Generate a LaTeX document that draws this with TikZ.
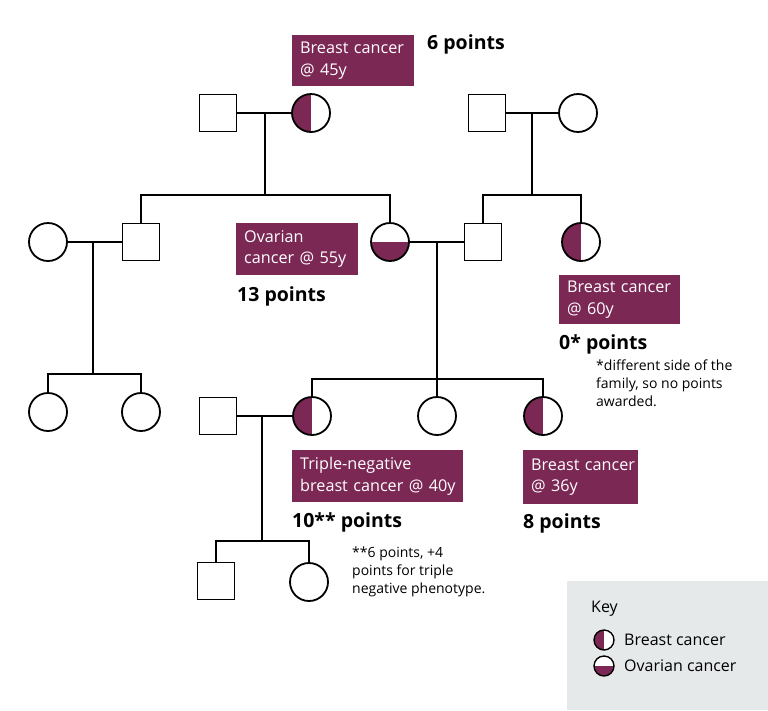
\documentclass[tikz,border=0pt]{standalone}
\usepackage{fontspec}
\setmainfont{Open Sans}
\definecolor{maroon}{HTML}{7C2855}
\definecolor{keygray}{HTML}{E6E9EA}
\tikzset{
  person/.style={draw=black, line width=1.8pt, fill=white, inner sep=0pt},
  male/.style={person, rectangle, minimum size=37pt},
  female/.style={person, circle, minimum size=38pt},
  smallfemale/.style={person, circle, minimum size=20pt, line width=1.4pt},
  breast/.style={path picture={\fill[maroon] (path picture bounding box.south west) rectangle (path picture bounding box.north);}},
  ovarian/.style={path picture={\fill[maroon] (path picture bounding box.south west) rectangle (path picture bounding box.east);}},
  link/.style={line width=1.8pt},
  label/.style={fill=maroon, text=white, anchor=north west, align=left, inner xsep=8pt, inner ysep=0pt,
     font=\fontsize{16.2}{21.5}\selectfont},
  points/.style={anchor=west, inner sep=0pt, font=\fontsize{19.5}{22}\bfseries},
  note/.style={anchor=north west, align=left, inner sep=0pt, font=\fontsize{14}{18}\selectfont},
  keytext/.style={anchor=west, inner sep=0pt, font=\fontsize{16}{18}\selectfont},
}
\begin{document}
\begin{tikzpicture}[x=1pt,y=-1pt]
\useasboundingbox (0,0) rectangle (768,710);
% key background
\fill[keygray] (567,581) rectangle (768,710);

% generation 1
\node[male] (gf1) at (218,113) {};
\node[female,breast] (gm1) at (311,113) {};
\node[male] (gf2) at (487,113) {};
\node[female] (gm2) at (578,113) {};
\draw[link] (gf1) -- (gm1);
\draw[link] (gf2) -- (gm2);
\coordinate (m1) at (265,113);
\coordinate (m2) at (532,113);

% generation 2
\node[female] (aunt) at (48,242) {};
\node[male] (uncle) at (141,242) {};
\node[female,ovarian] (mother) at (390,242) {};
\node[male] (father) at (483,242) {};
\node[female,breast] (paunt) at (581,242) {};
\draw[link] (aunt) -- (uncle);
\draw[link] (mother) -- (father);
\coordinate (s1) at (265,195);
\coordinate (s2) at (532,195);
\draw[link] (m1) -- (s1);
\draw[link] (uncle.north) |- (s1) -| (mother.north);
\draw[link] (m2) -- (s2);
\draw[link] (father.north) |- (s2) -| (paunt.north);
\coordinate (m3) at (93,242);
\coordinate (m4) at (437,242);

% left cousins
\node[female] (c1) at (48,412) {};
\node[female] (c2) at (141,412) {};
\coordinate (s3) at (93,374);
\draw[link] (m3) -- (s3);
\draw[link] (c1.north) |- (s3) -| (c2.north);

% generation 3
\node[male] (husband) at (218,416) {};
\node[female,breast] (d1) at (312,416) {};
\node[female] (d2) at (437,416) {};
\node[female,breast] (d3) at (543,416) {};
\coordinate (s4) at (437,379);
\draw[link] (m4) -- (s4);
\draw[link] (d1.north) |- (s4) -| (d3.north);
\draw[link] (s4) -- (d2.north);
\draw[link] (husband) -- (d1);
\coordinate (m5) at (262,416);

% generation 4
\node[male] (g1) at (216,581) {};
\node[female] (g2) at (309,582) {};
\coordinate (s5) at (262,541);
\draw[link] (m5) -- (s5);
\draw[link] (g1.north) |- (s5) -| (g2.north);

% labels
\node[label, text width=106pt, minimum height=51pt] (l1) at (292,35) {\mbox{Breast cancer}\\@ 45y};
\node[points] (p1) at (427,44) {6 points};
\node[label, text width=106pt, minimum height=52pt] (l2) at (236,223) {Ovarian\\\mbox{cancer @ 55y}};
\node[points] (p2) at (237,296) {13 points};
\node[label, text width=105pt, minimum height=49pt] (l3) at (559,275) {\mbox{Breast cancer}\\@ 60y};
\node[points] (p3) at (559,344) {0* points};
\node[note] (n3) at (596,360) {*different side of the\\family, so no points\\awarded.};
\node[label, text width=155pt, minimum height=52pt] (l4) at (292,450) {Triple-negative\\\mbox{breast cancer @ 40y}};
\node[points] (p4) at (292,522) {10** points};
\node[label, text width=99pt, minimum height=54pt] (l5) at (523,450) {\mbox{Breast cancer}\\@ 36y};
\node[points] (p5) at (523,523) {8 points};
\node[note] (n4) at (352,547) {**6 points, +4\\points for triple\\negative phenotype.};

% key
\node[keytext] (keyt) at (591,609) {Key};
\node[smallfemale,breast] (k1) at (604,640) {};
\node[keytext] (k1t) at (624,640) {Breast cancer};
\node[smallfemale,ovarian] (k2) at (604,666) {};
\node[keytext] (k2t) at (624,666) {Ovarian cancer};
\end{tikzpicture}
\end{document}
